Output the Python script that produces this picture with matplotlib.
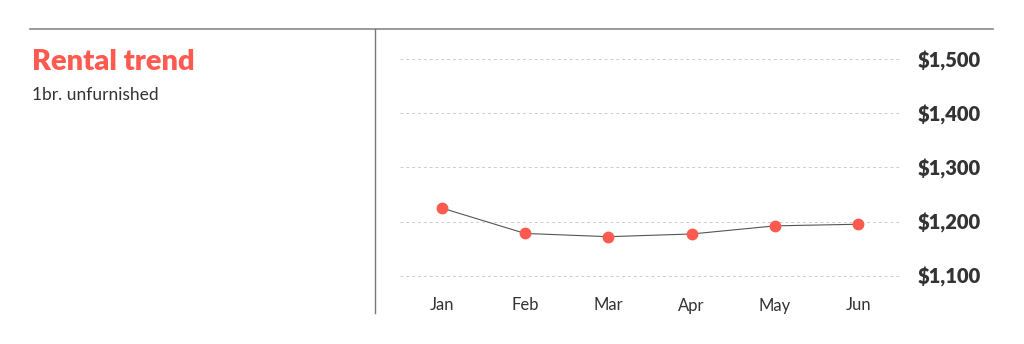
import matplotlib
matplotlib.use("Agg")
import matplotlib.pyplot as plt
from matplotlib.lines import Line2D

months = ["Jan", "Feb", "Mar", "Apr", "May", "Jun"]
rent = [1225, 1178, 1172, 1177, 1192, 1195]
y_ticks = [1100, 1200, 1300, 1400, 1500]
y_labels = ["$1,100", "$1,200", "$1,300", "$1,400", "$1,500"]

red = "#ff5a4f"
dark = "#333333"

fig = plt.figure(figsize=(10.24, 3.44), dpi=100)
ax = fig.add_axes([400 / 1024, 1 - 285 / 344, 500 / 1024, 235 / 344])

x = list(range(len(months)))
ax.plot(x, rent, color="#555555", linewidth=0.8, zorder=2)
ax.plot(x, rent, linestyle="none", marker="o", markersize=7.5,
        markerfacecolor=red, markeredgecolor=red, zorder=3)

ax.set_xlim(-0.5, 5.5)
ax.set_ylim(1082.8, 1516.7)
ax.set_xticks(x)
ax.set_xticklabels(months, fontsize=12, color=dark, family="Lato")
ax.set_yticks(y_ticks)
ax.set_yticklabels(y_labels, fontsize=14.5, color=dark, fontweight="heavy", family="Lato")
ax.yaxis.tick_right()
ax.tick_params(axis="y", length=0, pad=13)
ax.tick_params(axis="x", length=0, pad=9)
ax.grid(axis="y", color="#cccccc", linestyle=(0, (3, 3)), linewidth=0.7)
ax.set_axisbelow(True)
for s in ax.spines.values():
    s.set_visible(False)

# frame lines
fig.add_artist(Line2D([30 / 1024, 993 / 1024], [1 - 29 / 344, 1 - 29 / 344],
                      color="#888888", linewidth=1.2))
fig.add_artist(Line2D([375 / 1024, 375 / 1024], [1 - 29 / 344, 1 - 313 / 344],
                      color="#777777", linewidth=1))

fig.text(32 / 1024, 1 - 70 / 344, "Rental trend", color=red, fontsize=21,
         fontweight="heavy", family="Lato", va="baseline")
fig.text(32 / 1024, 1 - 100 / 344, "1br. unfurnished", color=dark, fontsize=12.5,
         family="Lato", va="baseline")

fig.savefig("out.png", dpi=100)
